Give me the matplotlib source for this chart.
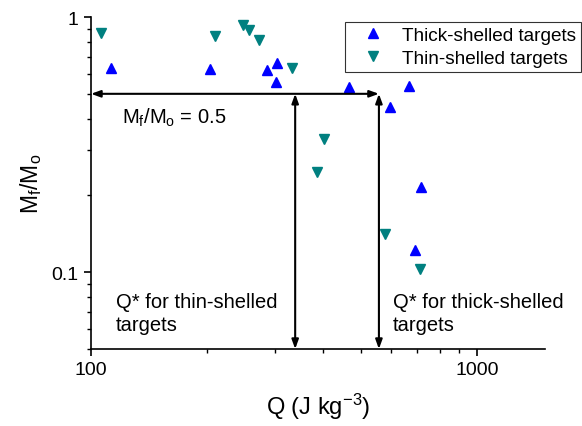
import matplotlib
matplotlib.use("Agg")
import matplotlib.pyplot as plt
from matplotlib.ticker import LogLocator, NullFormatter, FixedLocator, FixedFormatter

plt.rcParams['font.family'] = ['Liberation Sans', 'DejaVu Sans']
plt.rcParams['mathtext.fontset'] = 'custom'
plt.rcParams['mathtext.rm'] = 'Liberation Sans'
plt.rcParams['mathtext.it'] = 'Liberation Sans'

# Data
thick_q = [113, 203, 286, 303, 302, 467, 666, 594, 717, 692]
thick_m = [0.63, 0.625, 0.621, 0.66, 0.557, 0.533, 0.538, 0.445, 0.215, 0.122]
thin_q = [106, 210, 247, 257, 273, 331, 401, 385, 579, 713]
thin_m = [0.863, 0.845, 0.93, 0.889, 0.815, 0.631, 0.334, 0.246, 0.141, 0.103]

mf_threshold = 0.5
qstar_thin = 338
qstar_thick = 557

xticks = [100, 1000]
xticklabels = ['100', '1000']
yticks = [0.1, 1]
yticklabels = ['0.1', '1']

fig = plt.figure(figsize=(5.82, 4.27), dpi=100)
ax = fig.add_axes([91/582, 1-350/427, (545-91)/582, (350-18)/427])

ax.plot(thick_q, thick_m, linestyle='none', marker='^', color='#0000ff', ms=7.5,
        label='Thick-shelled targets')
ax.plot(thin_q, thin_m, linestyle='none', marker='v', color='#008080', ms=7.5,
        label='Thin-shelled targets')

ax.set_xscale('log')
ax.set_yscale('log')
ax.set_xlim(100, 1500)
ax.set_ylim(0.05, 1)

for s in ['top', 'right']:
    ax.spines[s].set_visible(False)
for s in ['left', 'bottom']:
    ax.spines[s].set_linewidth(1.2)

ax.xaxis.set_major_locator(FixedLocator(xticks))
ax.xaxis.set_major_formatter(FixedFormatter(xticklabels))
ax.yaxis.set_major_locator(FixedLocator(yticks))
ax.yaxis.set_major_formatter(FixedFormatter(yticklabels))
ax.xaxis.set_minor_locator(LogLocator(base=10, subs=range(2, 10)))
ax.yaxis.set_minor_locator(LogLocator(base=10, subs=range(2, 10)))
ax.xaxis.set_minor_formatter(NullFormatter())
ax.yaxis.set_minor_formatter(NullFormatter())
ax.tick_params(which='major', direction='out', length=5, width=1.2, labelsize=14, pad=4)
ax.tick_params(which='minor', direction='out', length=3, width=1.0)

ax.set_xlabel('Q (J kg$^{-3}$)', fontsize=17, labelpad=9)
ax.set_ylabel('M$_f$/M$_o$', fontsize=16.5, labelpad=5)

arrow_kw = dict(arrowstyle='<|-|>,head_length=0.55,head_width=0.2', color='black', lw=1.5,
                shrinkA=0, shrinkB=0)
ax.annotate('', xy=(100, mf_threshold), xytext=(qstar_thick, mf_threshold),
            arrowprops=arrow_kw, annotation_clip=False)
ax.annotate('', xy=(qstar_thin, mf_threshold), xytext=(qstar_thin, 0.05),
            arrowprops=arrow_kw, annotation_clip=False)
ax.annotate('', xy=(qstar_thick, mf_threshold), xytext=(qstar_thick, 0.05),
            arrowprops=arrow_kw, annotation_clip=False)

ax.text(0.068, 0.698, 'M$_f$/M$_o$ = 0.5', transform=ax.transAxes, fontsize=14.5,
        ha='left', va='center')
ax.text(0.054, 0.108, 'Q* for thin-shelled\ntargets', transform=ax.transAxes, fontsize=14.5,
        ha='left', va='center', linespacing=1.3)
ax.text(0.665, 0.108, 'Q* for thick-shelled\ntargets', transform=ax.transAxes, fontsize=14.5,
        ha='left', va='center', linespacing=1.3)

leg = ax.legend(loc='upper left', bbox_to_anchor=((345-91)/454, (350-23)/332),
                fontsize=13.7, frameon=True, fancybox=False, edgecolor='black',
                borderpad=0.25, handletextpad=0.3, labelspacing=0.3, handlelength=2.45,
                borderaxespad=0)
leg.get_frame().set_linewidth(0.8)

fig.savefig('out.png', dpi=100)
